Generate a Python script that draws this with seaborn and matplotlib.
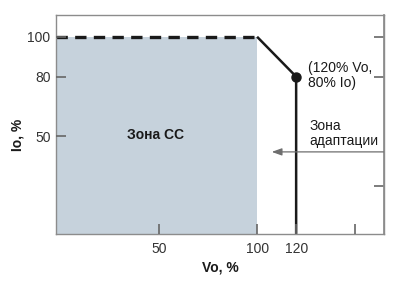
import matplotlib
matplotlib.use("Agg")
import matplotlib.pyplot as plt
import seaborn as sns
import pandas as pd

# Data
x_limit_vo = [100, 120]          # Vo, % breakpoints
limit_io = [100, 80]             # Io, % at breakpoints
cc_vo = [-3, 100]                # constant current zone span
cc_io = [100, 100]
x_ticks = [50, 100, 120, 150]
x_ticklabels = ["50", "100", "120", ""]
y_ticks = [50, 80, 100]
y_ticklabels = ["50", "80", "100"]
right_ticks = [25, 80, 100]
xlim = (-3, 165)
ylim = (1, 111)
zone_cc_label = "Зона CC"
point_label = "(120% Vo,\n80% Io)"
zone_adapt_label = "Зона\nадаптации"

sns.set_theme(style="ticks")
plt.rcParams["font.family"] = ["Liberation Sans", "DejaVu Sans"]

fig = plt.figure(figsize=(4.0, 2.86), dpi=100)
ax = fig.add_axes([0.14, 0.182, 0.82, 0.766])

grey = "#8c8c8c"
tickc = "#666666"
ax.set_xlim(*xlim)
ax.set_ylim(*ylim)

# shaded CC zone
ax.fill_between(cc_vo, [ylim[0]] * 2, cc_io, color="#c6d2dc", lw=0, zorder=0.1)

# dashed limit line
dash_df = pd.DataFrame({"vo": cc_vo, "io": cc_io})
sns.lineplot(data=dash_df, x="vo", y="io", ax=ax, color="#1a1a1a", lw=2.4,
             linestyle=(0, (3.4, 2.2)), zorder=3)

# solid slope and vertical line
slope_df = pd.DataFrame({"vo": [x_limit_vo[0], x_limit_vo[1], x_limit_vo[1]],
                         "io": [limit_io[0], limit_io[1], ylim[0]]})
ax.plot(slope_df["vo"], slope_df["io"], color="#1a1a1a", lw=1.8, zorder=3,
        solid_capstyle="butt")
ax.plot([x_limit_vo[1]], [limit_io[1]], "o", color="#1a1a1a", ms=6.5, zorder=4)

# arrow
ax.annotate("", xy=(107.5, 42.2), xytext=(xlim[1], 42.2),
            arrowprops=dict(arrowstyle="-|>,head_length=0.5,head_width=0.18",
                            color="#6e6e6e", lw=0.9, shrinkA=0, shrinkB=0),
            zorder=3)

# texts
ax.text(48, 50.5, zone_cc_label, ha="center", va="center", fontsize=10,
        fontweight="bold", color="#1a1a1a", zorder=5)
ax.text(126.3, 80.5, point_label, ha="left", va="center", fontsize=10,
        color="#1a1a1a", linespacing=1.1)
ax.text(127, 51.5, zone_adapt_label, ha="left", va="center", fontsize=10,
        color="#1a1a1a", linespacing=1.1)

# main ticks
ax.set_xticks(x_ticks)
ax.set_xticklabels(x_ticklabels)
ax.set_yticks(y_ticks)
ax.set_yticklabels(y_ticklabels)
ax.tick_params(axis="x", which="major", direction="in", length=7, width=1.2,
               color=tickc, labelsize=10, labelcolor="#333333", pad=6,
               bottom=True, top=False)
ax.tick_params(axis="y", which="major", direction="in", length=7, width=1.2,
               color=tickc, labelsize=10, labelcolor="#333333", pad=4,
               left=True, right=False)
ax.xaxis.set_zorder(5)
ax.yaxis.set_zorder(5)
for s in ax.spines.values():
    s.set_color(grey)
    s.set_linewidth(1)
    s.set_zorder(5)

# right-hand unlabeled ticks
sec = ax.secondary_yaxis("right")
sec.set_yticks(right_ticks)
sec.set_yticklabels([])
sec.tick_params(axis="y", direction="in", length=7, width=1.2, color=tickc)
sec.spines["right"].set_color(grey)

ax.set_xlabel("Vo, %", fontsize=10, fontweight="bold", color="#1a1a1a", labelpad=3)
ax.set_ylabel("Io, %", fontsize=10, fontweight="bold", color="#1a1a1a")
ax.yaxis.set_label_coords(-0.095, 0.45)
if ax.get_legend() is not None:
    ax.get_legend().remove()

fig.savefig("out.png", dpi=100)
